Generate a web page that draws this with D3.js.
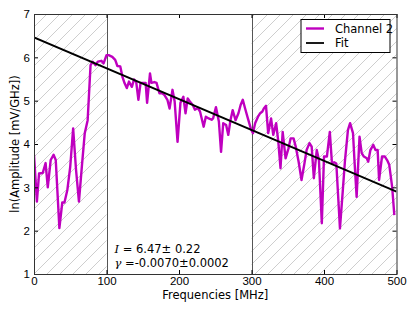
<!DOCTYPE html>
<html>
<head>
<meta charset="utf-8">
<script src="https://cdn.jsdelivr.net/npm/d3@7"></script>
<style>
	body { margin: 0; background: #fff; }
	svg { display: block; font-family: "DejaVu Sans", sans-serif; }
	text { fill: #000; }
</style>
</head>
<body>
<svg id="chart" width="415" height="312"></svg>
<script>
// values
var freqs = [0, 4, 7, 12, 16, 19, 23, 27, 30, 35, 39, 42, 46, 50, 54, 58, 62, 66, 70, 74,
	78, 81, 85, 88, 93, 96, 100, 103, 108, 112, 115, 119, 122, 125, 128, 131, 135, 138, 141, 144,
	147, 150, 154, 156, 160, 162, 166, 169, 173, 177, 180, 184, 187, 191, 194, 198, 202, 206, 209, 212,
	215, 219, 222, 226, 229, 234, 237, 241, 245, 247, 251, 255, 258, 261, 265, 268, 271, 274, 278, 282,
	285, 288, 291, 295, 299, 302, 305, 309, 312, 315, 317, 320, 323, 327, 330, 334, 337, 340, 343, 347,
	351, 354, 358, 361, 365, 369, 373, 376, 380, 383, 386, 390, 393, 397, 400, 404, 408, 411, 414, 417,
	422, 426, 429, 433, 436, 440, 442, 445, 449, 452, 455, 459, 461, 464, 468, 471, 474, 476, 480, 484,
	487, 490, 494, 497];
var channel2 = [3.75, 2.67, 3.32, 3.33, 3.56, 3.00, 3.63, 3.75, 3.63, 2.06, 2.65, 2.65, 2.94, 3.48, 4.36, 3.40, 2.67, 3.48, 4.25, 4.55,
	5.82, 5.90, 5.82, 5.90, 5.92, 5.86, 6.05, 6.05, 6.01, 5.94, 5.80, 5.79, 5.55, 5.40, 5.29, 5.44, 5.32, 5.49, 5.43, 5.02,
	5.41, 5.41, 5.41, 4.95, 5.63, 5.41, 5.43, 5.41, 5.17, 5.17, 5.13, 5.02, 4.82, 5.25, 4.98, 4.05, 4.95, 5.09, 4.71, 5.05,
	4.98, 4.90, 4.79, 4.83, 4.75, 4.40, 4.63, 4.59, 4.56, 4.59, 4.85, 4.52, 3.82, 4.48, 4.44, 4.21, 4.55, 4.78, 4.55, 4.71,
	4.90, 5.02, 4.83, 4.59, 4.36, 4.25, 4.48, 4.63, 4.71, 4.75, 4.82, 4.88, 4.25, 4.59, 4.21, 4.48, 4.05, 3.44, 4.28, 3.67,
	3.90, 4.13, 4.13, 3.94, 3.59, 3.17, 3.55, 3.86, 4.02, 3.94, 3.21, 3.86, 3.63, 2.17, 3.71, 3.71, 4.28, 3.55, 3.58, 3.55,
	2.05, 2.94, 3.63, 4.32, 4.48, 4.25, 3.63, 2.78, 4.17, 3.79, 3.71, 3.67, 3.59, 3.86, 3.98, 3.86, 3.86, 3.17, 3.71, 3.71,
	3.63, 3.52, 3.01, 2.36];
var fitFreqs = [0, 500];
var fitValues = [6.46, 2.9];
var hatchedSpans = [[0, 100], [300, 500]];
var xTicks = [0, 100, 200, 300, 400, 500];
var yTicks = [1, 2, 3, 4, 5, 6, 7];
var legendLabels = ["Channel 2", "Fit"];

var margin = {top: 14, right: 18.5, bottom: 38, left: 34},
	width = 415 - margin.left - margin.right,
	height = 312 - margin.top - margin.bottom;

var magenta = "#bf00bf";

var svg = d3.select("#chart");

// hatch pattern like matplotlib's "/"
var defs = svg.append("defs");
var pat = defs.append("pattern")
	.attr("id", "hatch")
	.attr("patternUnits", "userSpaceOnUse")
	.attr("width", 13)
	.attr("height", 13);
pat.append("path")
	.attr("d", "M-1,1 l2,-2 M0,13 l13,-13 M12,14 l2,-2")
	.attr("stroke", "#c8c8c8")
	.attr("stroke-width", 0.9);

defs.append("clipPath").attr("id", "clip")
	.append("rect").attr("width", width).attr("height", height);

var g = svg.append("g")
	.attr("transform", "translate(" + margin.left + "," + margin.top + ")");

var x = d3.scaleLinear().domain([0, 500]).range([0, width]);
var y = d3.scaleLinear().domain([1, 7]).range([height, 0]);

// hatched regions
g.selectAll(".span")
	.data(hatchedSpans)
	.enter().append("rect")
	.attr("x", function(d) { return x(d[0]); })
	.attr("width", function(d) { return x(d[1]) - x(d[0]); })
	.attr("y", 0)
	.attr("height", height)
	.attr("fill", "url(#hatch)");

// vertical edges of the spans
g.selectAll(".vline")
	.data([100, 300])
	.enter().append("line")
	.attr("x1", function(d) { return Math.round(x(d)) + 0.5; })
	.attr("x2", function(d) { return Math.round(x(d)) + 0.5; })
	.attr("y1", 0)
	.attr("y2", height)
	.attr("stroke", "#555")
	.attr("stroke-width", 1);

var plot = g.append("g").attr("clip-path", "url(#clip)");

var line = d3.line()
	.x(function(d) { return x(d[0]); })
	.y(function(d) { return y(d[1]); });

plot.append("path")
	.datum(d3.zip(freqs, channel2))
	.attr("d", line)
	.attr("fill", "none")
	.attr("stroke", magenta)
	.attr("stroke-width", 2.4)
	.attr("stroke-linejoin", "round");

plot.append("path")
	.datum(d3.zip(fitFreqs, fitValues))
	.attr("d", line)
	.attr("fill", "none")
	.attr("stroke", "#000")
	.attr("stroke-width", 1.8);

// axes, ticks inward on all four sides (classic style)
function styleAxis(sel) {
	sel.select(".domain").remove();
	sel.selectAll("line").attr("stroke", "#000");
	sel.selectAll("text").attr("font-size", "11.5px").attr("fill", "#000");
}

g.append("g")
	.attr("transform", "translate(0," + height + ")")
	.call(d3.axisBottom(x).tickValues(xTicks).tickSizeInner(-4).tickSizeOuter(0).tickPadding(3).tickFormat(d3.format("d")))
	.call(styleAxis);
g.append("g")
	.call(d3.axisTop(x).tickValues(xTicks).tickSizeInner(-4).tickSizeOuter(0).tickFormat(""))
	.call(styleAxis);
g.append("g")
	.call(d3.axisLeft(y).tickValues(yTicks).tickSizeInner(-4).tickSizeOuter(0).tickPadding(4).tickFormat(d3.format("d")))
	.call(styleAxis);
g.append("g")
	.attr("transform", "translate(" + width + ",0)")
	.call(d3.axisRight(y).tickValues(yTicks).tickSizeInner(-4).tickSizeOuter(0).tickFormat(""))
	.call(styleAxis);

g.append("rect")
	.attr("x", 0.5).attr("y", 0.5)
	.attr("width", width).attr("height", height)
	.attr("fill", "none")
	.attr("stroke", "#333")
	.attr("stroke-width", 1);

// axis labels
g.append("text")
	.attr("x", width / 2)
	.attr("y", height + 25)
	.attr("text-anchor", "middle")
	.attr("font-size", "11.5px")
	.text("Frequencies [MHz]");

g.append("text")
	.attr("transform", "translate(" + (-19) + "," + (height / 2) + ") rotate(-90)")
	.attr("text-anchor", "middle")
	.attr("dy", "0.35em")
	.attr("font-size", "11.5px")
	.text("ln(Amplitude [mV/GHz])");

// fit result annotation
var ann = g.append("g")
	.attr("transform", "translate(" + (x(100) + 8) + "," + (height - 21) + ")")
	.attr("font-size", "11.5px");
var t1 = ann.append("text");
t1.append("tspan").attr("font-family", "DejaVu Serif").attr("font-style", "italic").text("I");
t1.append("tspan").text(" = 6.47\u00b1 0.22");
var t2 = ann.append("text").attr("y", 13.5);
t2.append("tspan").attr("font-family", "DejaVu Serif").attr("font-style", "italic").text("\u03b3");
t2.append("tspan").text(" =-0.0070\u00b10.0002");

// legend
var legend = g.append("g")
	.attr("transform", "translate(" + (width - 95.5) + ",5.5)");
legend.append("rect")
	.attr("width", 89)
	.attr("height", 33)
	.attr("fill", "#fff")
	.attr("stroke", "#000")
	.attr("stroke-width", 1);
var item = legend.selectAll(".item")
	.data(legendLabels)
	.enter().append("g")
	.attr("transform", function(d, i) { return "translate(0," + (9 + i * 14.5) + ")"; });
item.append("line")
	.attr("x1", 5).attr("x2", 23)
	.attr("stroke", function(d, i) { return i === 0 ? magenta : "#000"; })
	.attr("stroke-width", function(d, i) { return i === 0 ? 2.4 : 1.8; });
item.append("text")
	.attr("x", 34)
	.attr("dy", "0.36em")
	.attr("font-size", "11.5px")
	.text(function(d) { return d; });
</script>
</body>
</html>
